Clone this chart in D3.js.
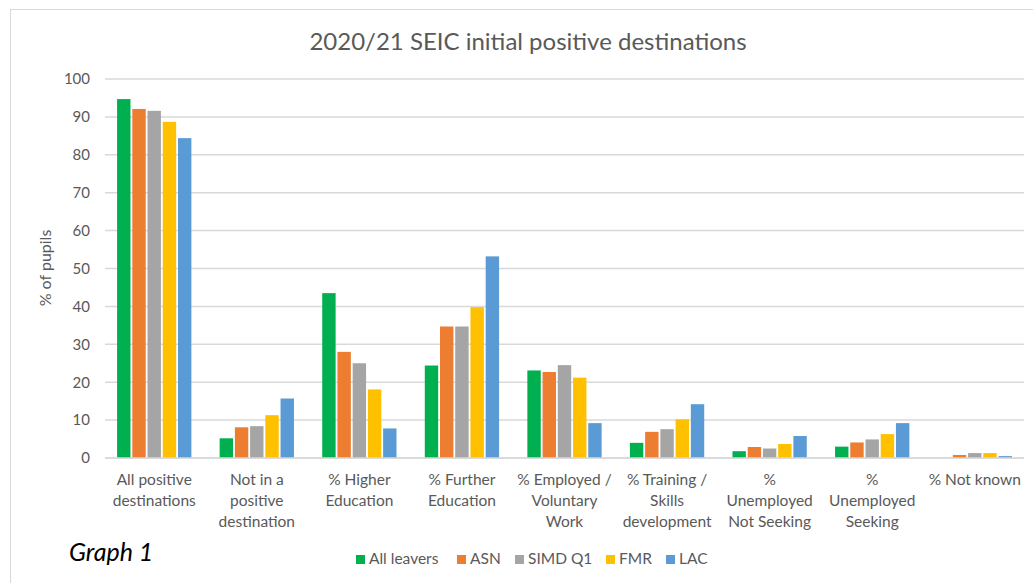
<!DOCTYPE html>
<html>
<head>
  <meta charset='utf-8'>
  <script src='https://cdn.jsdelivr.net/npm/d3@7'></script>
  <style>
    body { margin: 0; background: #fff; }
    text { font-family: Lato, 'Open Sans', sans-serif; }
  </style>
</head>
<body>
  <script>
    let [width, height] = [1033, 583]

    let categories = [
      ['All positive', 'destinations'],
      ['Not in a', 'positive', 'destination'],
      ['% Higher', 'Education'],
      ['% Further', 'Education'],
      ['% Employed /', 'Voluntary', 'Work'],
      ['% Training /', 'Skills', 'development'],
      ['%', 'Unemployed', 'Not Seeking'],
      ['%', 'Unemployed', 'Seeking'],
      ['% Not known']
    ]
    let seriesNames = ['All leavers', 'ASN', 'SIMD Q1', 'FMR', 'LAC']
    let colors = ['#00B050', '#ED7D31', '#A5A5A5', '#FFC000', '#5B9BD5']

    let allLeavers = [94.7, 5.2, 43.5, 24.4, 23.1, 4.0, 1.8, 3.0, 0]
    let asn = [92.1, 8.1, 28.0, 34.7, 22.7, 6.9, 2.9, 4.1, 0.8]
    let simdQ1 = [91.6, 8.4, 25.0, 34.7, 24.5, 7.6, 2.5, 4.9, 1.3]
    let fmr = [88.7, 11.3, 18.1, 39.8, 21.2, 10.2, 3.7, 6.3, 1.3]
    let lac = [84.4, 15.7, 7.8, 53.2, 9.2, 14.2, 5.8, 9.2, 0.5]
    let series = [allLeavers, asn, simdQ1, fmr, lac]
    let yTicks = d3.range(0, 101, 10)

    let margin = { left: 105, right: 1024, top: 79, bottom: 458 }

    let svg = d3.select('body').append('svg')
      .attr('width', width).attr('height', height)

    // chart frame
    svg.append('rect')
      .attr('x', 10.5).attr('y', 9.5)
      .attr('width', 1040).attr('height', 600)
      .attr('fill', '#fff').attr('stroke', '#d9d9d9').attr('stroke-width', 1)

    let x0 = d3.scaleBand()
      .domain(d3.range(categories.length))
      .range([margin.left, margin.right])
      .paddingInner(0.24).paddingOuter(0.1)
    let x1 = d3.scaleBand()
      .domain(d3.range(seriesNames.length))
      .range([0, x0.bandwidth()])
      .padding(0.12)
    let y = d3.scaleLinear([0, 100], [margin.bottom, margin.top])

    // gridlines
    svg.append('g')
      .selectAll('line')
      .data(yTicks)
      .join('line')
      .attr('x1', margin.left).attr('x2', margin.right)
      .attr('y1', d => y(d)).attr('y2', d => y(d))
      .attr('stroke', '#d9d9d9').attr('stroke-width', 1.5)

    // y axis labels
    let yAxis = d3.axisLeft(y).tickValues(yTicks).tickSize(0).tickPadding(15)
    svg.append('g')
      .attr('transform', `translate(${margin.left},0)`)
      .call(yAxis)
      .call(g => g.select('.domain').remove())
      .call(g => g.selectAll('text')
        .attr('fill', '#595959').style('font-size', '15px')
        .style('font-family', 'Lato, sans-serif'))

    // bars
    let groups = svg.append('g')
      .selectAll('g')
      .data(categories.map((c, i) => i))
      .join('g')
      .attr('transform', i => `translate(${x0(i)},0)`)

    groups.selectAll('rect')
      .data(i => series.map((s, k) => ({ k, v: s[i] })))
      .join('rect')
      .attr('x', d => x1(d.k))
      .attr('width', x1.bandwidth())
      .attr('y', d => y(d.v))
      .attr('height', d => y(0) - y(d.v))
      .attr('fill', d => colors[d.k])

    // baseline
    svg.append('line')
      .attr('x1', margin.left).attr('x2', margin.right)
      .attr('y1', y(0)).attr('y2', y(0))
      .attr('stroke', '#d9d9d9').attr('stroke-width', 1.5)

    // category labels
    let catLabels = svg.append('g')
      .selectAll('text')
      .data(categories)
      .join('text')
      .attr('text-anchor', 'middle')
      .attr('fill', '#595959')
      .style('font-size', '15.5px')
      .attr('transform', (d, i) => `translate(${x0(i) + x0.bandwidth() / 2},485)`)
    catLabels.selectAll('tspan')
      .data(d => d)
      .join('tspan')
      .attr('x', 0)
      .attr('dy', (d, i) => i === 0 ? 0 : 21)
      .text(d => d)

    // title
    svg.append('text')
      .attr('x', 528).attr('y', 50)
      .attr('text-anchor', 'middle')
      .attr('fill', '#595959')
      .style('font-size', '24px')
      .text('2020/21 SEIC initial positive destinations')

    // y axis title
    svg.append('text')
      .attr('transform', 'translate(51,268) rotate(-90)')
      .attr('text-anchor', 'middle')
      .attr('fill', '#595959')
      .style('font-size', '16px')
      .text('% of pupils')

    // Graph 1 note
    svg.append('text')
      .attr('x', 69).attr('y', 561)
      .attr('fill', '#000')
      .style('font-size', '25px')
      .style('font-style', 'italic')
      .text('Graph 1')

    // legend
    let legendX = [356, 457, 515, 606, 666]
    let legend = svg.append('g')
      .selectAll('g')
      .data(seriesNames)
      .join('g')
      .attr('transform', (d, i) => `translate(${legendX[i]},555)`)
    legend.append('rect')
      .attr('width', 9).attr('height', 9)
      .attr('fill', (d, i) => colors[i])
    legend.append('text')
      .attr('x', 13).attr('y', 9)
      .attr('fill', '#595959')
      .style('font-size', '15.5px')
      .text(d => d)
  </script>
</body>
</html>
